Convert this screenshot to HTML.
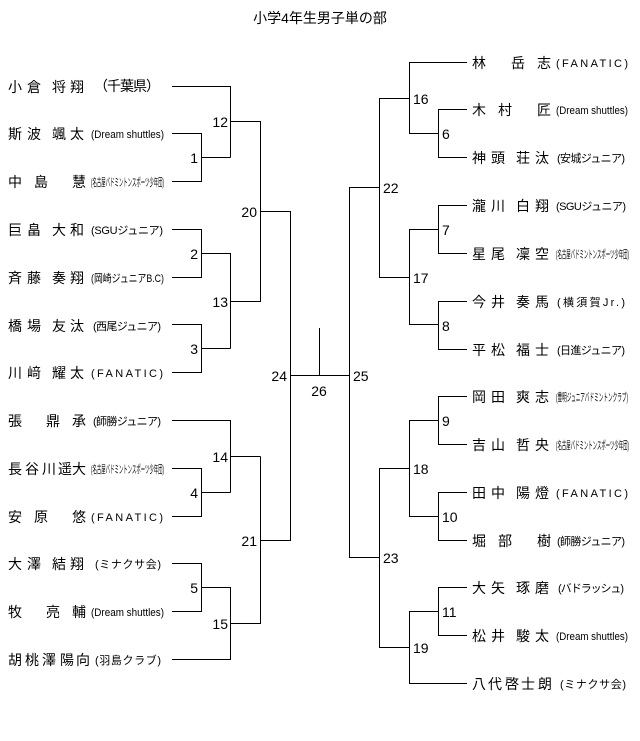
<!DOCTYPE html>
<html><head><meta charset="utf-8"><style>
html,body{margin:0;padding:0;background:#fff}
svg{display:block}
text{font-family:"Liberation Sans","Noto Sans CJK JP",sans-serif;fill:#000}
.n{font-size:14px}
.c{font-size:11px;fill:#333}
.k{font-size:14px}
</style></head><body>
<svg width="640" height="741" viewBox="0 0 640 741" xmlns="http://www.w3.org/2000/svg">
<text x="320" y="23" class="k" text-anchor="middle">小学4年生男子単の部</text>
<g stroke="#000" stroke-width="1" fill="none" shape-rendering="crispEdges">
<path d="M172 86.5H230.5V157.5"/>
<path d="M172 133.5H201.5V181.5H172M201.5 157.5H230.5"/>
<path d="M230.5 121.5H260.5V301.5H230.5"/>
<path d="M260.5 211.5H290.5V540.5H260.5"/>
<path d="M172 229.5H201.5V277.5H172M201.5 253.5H230.5V348.5"/>
<path d="M172 324.5H201.5V372.5H172M201.5 348.5H230.5"/>
<path d="M172 420.5H230.5V492.5M230.5 456.5H260.5"/>
<path d="M172 468.5H201.5V516.5H172M201.5 492.5H230.5"/>
<path d="M260.5 456.5V623.5H230.5"/>
<path d="M172 563.5H201.5V611.5H172M201.5 587.5H230.5V659.5H172"/>
<path d="M290.5 375.5H349.5M319.5 328V375.5"/>
<path d="M467 62.5H409.5V133.5H438.5M409.5 98.5H379.5V277.5H409.5"/>
<path d="M467 109.5H438.5V157.5H467"/>
<path d="M379.5 187.5H349.5V557.5H379.5"/>
<path d="M467 205.5H438.5V253.5H467M438.5 229.5H409.5V324.5H438.5"/>
<path d="M467 301.5H438.5V349.5H467"/>
<path d="M467 396.5H438.5V444.5H467M438.5 420.5H409.5V516.5H438.5M409.5 468.5H379.5V647.5H409.5"/>
<path d="M467 492.5H438.5V540.5H467"/>
<path d="M467 587.5H438.5V635.5H467M438.5 611.5H409.5V683.5H467"/>
</g>
<g class="k">
<text x="228" y="127" text-anchor="end">12</text>
<text x="198" y="163" text-anchor="end">1</text>
<text x="257" y="217" text-anchor="end">20</text>
<text x="198" y="259" text-anchor="end">2</text>
<text x="228" y="307" text-anchor="end">13</text>
<text x="198" y="354" text-anchor="end">3</text>
<text x="287" y="381" text-anchor="end">24</text>
<text x="228" y="462" text-anchor="end">14</text>
<text x="198" y="498" text-anchor="end">4</text>
<text x="257" y="546" text-anchor="end">21</text>
<text x="198" y="593" text-anchor="end">5</text>
<text x="228" y="629" text-anchor="end">15</text>
<text x="319" y="396" text-anchor="middle">26</text>
<text x="353" y="381">25</text>
<text x="413" y="104">16</text>
<text x="442" y="139">6</text>
<text x="383" y="193">22</text>
<text x="442" y="235">7</text>
<text x="413" y="283">17</text>
<text x="442" y="331">8</text>
<text x="442" y="426">9</text>
<text x="413" y="474">18</text>
<text x="442" y="522">10</text>
<text x="383" y="563">23</text>
<text x="442" y="617">11</text>
<text x="413" y="653">19</text>
</g>
<g class="n">
<text x="8 27 52 70" y="92">小倉将翔</text>
<text x="8 27 52 70" y="139">斯波颯太</text>
<text x="8 34 72" y="187">中島慧</text>
<text x="8 27 52 70" y="235">巨畠大和</text>
<text x="8 27 52 70" y="283">斉藤奏翔</text>
<text x="8 27 52 70" y="331">橋場友汰</text>
<text x="8 27 52 70" y="378">川﨑耀太</text>
<text x="8 46 72" y="426">張鼎承</text>
<text x="8 25 42 58 72" y="474">長谷川遥大</text>
<text x="8 34 72" y="522">安原悠</text>
<text x="8 27 52 70" y="569">大澤結翔</text>
<text x="8 46 72" y="617">牧亮輔</text>
<text x="8 25 42 60 76" y="665">胡桃澤陽向</text>
</g>
<g class="c">
<text x="94" y="91" textLength="66" lengthAdjust="spacing" style="font-size:14px;fill:#000">（千葉県）</text>
<text x="91" y="138" textLength="73" lengthAdjust="spacingAndGlyphs">(Dream shuttles)</text>
<text x="91" y="186" textLength="73" lengthAdjust="spacingAndGlyphs">(名古屋バドミントンスポーツ少年団)</text>
<text x="91" y="234" textLength="72" lengthAdjust="spacing">(SGUジュニア)</text>
<text x="91" y="282" textLength="73" lengthAdjust="spacingAndGlyphs">(岡崎ジュニアB.C)</text>
<text x="93" y="330" textLength="68" lengthAdjust="spacing">(西尾ジュニア)</text>
<text x="91" y="377" textLength="72" lengthAdjust="spacing">(FANATIC)</text>
<text x="93" y="425" textLength="68" lengthAdjust="spacing">(師勝ジュニア)</text>
<text x="91" y="473" textLength="73" lengthAdjust="spacingAndGlyphs">(名古屋バドミントンスポーツ少年団)</text>
<text x="91" y="521" textLength="72" lengthAdjust="spacing">(FANATIC)</text>
<text x="95" y="568" textLength="66" lengthAdjust="spacing">(ミナクサ会)</text>
<text x="91" y="616" textLength="73" lengthAdjust="spacingAndGlyphs">(Dream shuttles)</text>
<text x="95" y="664" textLength="66" lengthAdjust="spacing">(羽島クラブ)</text>
</g>
<g class="n">
<text x="472 511 537" y="68">林岳志</text>
<text x="472 498 537" y="115">木村匠</text>
<text x="472 491 516 535" y="163">神頭荘汰</text>
<text x="472 491 516 535" y="211">瀧川白翔</text>
<text x="472 491 516 535" y="259">星尾凜空</text>
<text x="472 491 516 535" y="307">今井奏馬</text>
<text x="472 491 516 535" y="355">平松福士</text>
<text x="472 491 516 535" y="402">岡田爽志</text>
<text x="472 491 516 535" y="450">吉山哲央</text>
<text x="472 491 516 535" y="498">田中陽燈</text>
<text x="472 498 537" y="546">堀部樹</text>
<text x="472 491 516 535" y="593">大矢琢磨</text>
<text x="472 491 516 535" y="641">松井駿太</text>
<text x="472 488 505 521 538" y="689">八代啓士朗</text>
</g>
<g class="c">
<text x="556" y="67" textLength="72" lengthAdjust="spacing">(FANATIC)</text>
<text x="556" y="114" textLength="72" lengthAdjust="spacingAndGlyphs">(Dream shuttles)</text>
<text x="557" y="162" textLength="68" lengthAdjust="spacing">(安城ジュニア)</text>
<text x="556" y="210" textLength="70" lengthAdjust="spacing">(SGUジュニア)</text>
<text x="556" y="258" textLength="73" lengthAdjust="spacingAndGlyphs">(名古屋バドミントンスポーツ少年団)</text>
<text x="557" y="306" textLength="68" lengthAdjust="spacing">(横須賀Jr.)</text>
<text x="557" y="354" textLength="68" lengthAdjust="spacing">(日進ジュニア)</text>
<text x="556" y="401" textLength="72" lengthAdjust="spacingAndGlyphs">(豊明ジュニアバドミントンクラブ)</text>
<text x="556" y="449" textLength="73" lengthAdjust="spacingAndGlyphs">(名古屋バドミントンスポーツ少年団)</text>
<text x="556" y="497" textLength="72" lengthAdjust="spacing">(FANATIC)</text>
<text x="557" y="545" textLength="68" lengthAdjust="spacing">(師勝ジュニア)</text>
<text x="558" y="592" textLength="66" lengthAdjust="spacing">(バドラッシュ)</text>
<text x="556" y="640" textLength="72" lengthAdjust="spacingAndGlyphs">(Dream shuttles)</text>
<text x="560" y="688" textLength="66" lengthAdjust="spacing">(ミナクサ会)</text>
</g>
</svg>
</body></html>
